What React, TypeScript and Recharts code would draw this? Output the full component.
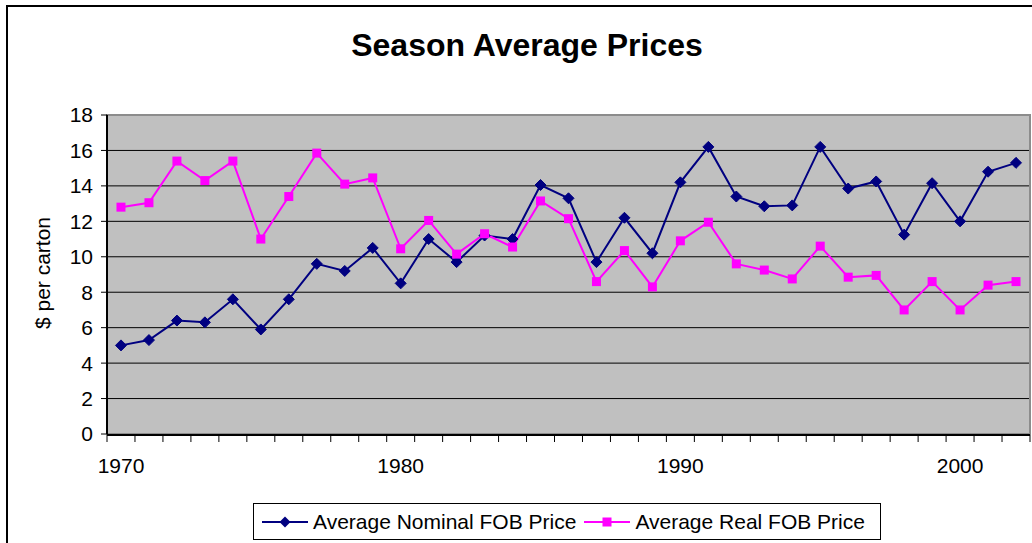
import {
  LineChart,
  Line,
  XAxis,
  YAxis,
  CartesianGrid,
  ReferenceArea,
} from 'recharts'

const years = [
  1970, 1971, 1972, 1973, 1974, 1975, 1976, 1977, 1978, 1979, 1980, 1981, 1982,
  1983, 1984, 1985, 1986, 1987, 1988, 1989, 1990, 1991, 1992, 1993, 1994, 1995,
  1996, 1997, 1998, 1999, 2000, 2001, 2002,
]

const nominal = [
  5.0, 5.3, 6.4, 6.3, 7.6, 5.9, 7.6, 9.6, 9.2, 10.5, 8.5, 11.0, 9.7, 11.2, 11.0,
  14.05, 13.3, 9.7, 12.2, 10.2, 14.2, 16.2, 13.4, 12.85, 12.9, 16.2, 13.85,
  14.25, 11.25, 14.15, 12.0, 14.8, 15.3,
]

const real = [
  12.8, 13.05, 15.4, 14.3, 15.4, 11.0, 13.4, 15.85, 14.1, 14.45, 10.45, 12.05,
  10.15, 11.3, 10.55, 13.15, 12.15, 8.6, 10.35, 8.3, 10.9, 11.95, 9.6, 9.25,
  8.75, 10.6, 8.85, 8.95, 7.0, 8.6, 7.0, 8.4, 8.6,
]

const yTicks = [0, 2, 4, 6, 8, 10, 12, 14, 16, 18]
const yearLabels = [1970, 1980, 1990, 2000]

const NAVY = '#000080'
const PINK = '#FF00FF'
const FONT = '"Liberation Sans", Arial, sans-serif'

const data = years.map((year, i) => ({
  year,
  nominal: nominal[i],
  real: real[i],
}))

// tick marks sit between the years, like the old spreadsheet chart
const boundaries = [...years.map((y) => y - 0.5), years[years.length - 1] + 0.5]
const xDomain = [boundaries[0], boundaries[boundaries.length - 1]]

const Diamond = (props: any) => {
  const { cx, cy, fill } = props
  if (cx == null || cy == null) return null
  const r = 5.5
  return (
    <polygon
      points={`${cx},${cy - r} ${cx + r},${cy} ${cx},${cy + r} ${cx - r},${cy}`}
      fill={fill}
      stroke={fill}
    />
  )
}

const Square = (props: any) => {
  const { cx, cy, fill } = props
  if (cx == null || cy == null) return null
  const s = 9
  return <rect x={cx - s / 2} y={cy - s / 2} width={s} height={s} fill={fill} />
}

const LegendBox = () => (
  <div
    style={{
      position: 'absolute',
      left: 253,
      top: 503,
      width: 628,
      height: 37,
      border: '1px solid #000',
      boxSizing: 'border-box',
      display: 'flex',
      alignItems: 'center',
      fontFamily: FONT,
      fontSize: 21,
      color: '#000',
      background: '#fff',
      whiteSpace: 'nowrap',
    }}
  >
    <svg width={46} height={14} style={{ marginLeft: 8 }}>
      <line x1={0} y1={7} x2={46} y2={7} stroke={NAVY} strokeWidth={2} />
      <polygon points="23,1.5 28.5,7 23,12.5 17.5,7" fill={NAVY} />
    </svg>
    <span style={{ marginLeft: 5 }}>Average Nominal FOB Price</span>
    <svg width={46} height={14} style={{ marginLeft: 8 }}>
      <line x1={0} y1={7} x2={46} y2={7} stroke={PINK} strokeWidth={2} />
      <rect x={18.5} y={2.5} width={9} height={9} fill={PINK} />
    </svg>
    <span style={{ marginLeft: 5 }}>Average Real FOB Price</span>
  </div>
)

export default function App() {
  return (
    <div
      style={{
        position: 'absolute',
        left: 0,
        top: 0,
        width: 1032,
        height: 543,
        overflow: 'hidden',
        background: '#fff',
        fontFamily: FONT,
      }}
    >
      <div
        style={{
          position: 'absolute',
          left: 0,
          top: 26,
          width: 1054,
          textAlign: 'center',
          fontSize: 32,
          lineHeight: '38px',
          fontWeight: 'bold',
          color: '#000',
        }}
      >
        Season Average Prices
      </div>
      <div
        style={{
          position: 'absolute',
          left: 43,
          top: 273,
          transform: 'translate(-50%, -50%) rotate(-90deg)',
          fontSize: 21,
          color: '#000',
          whiteSpace: 'nowrap',
        }}
      >
        $ per carton
      </div>
      <div style={{ position: 'absolute', left: 0, top: 0 }}>
        <LineChart
          width={1032}
          height={543}
          data={data}
          margin={{ top: 115, right: 2, bottom: 107, left: 0 }}
        >
          <CartesianGrid
            xAxisId="main"
            vertical={false}
            stroke="#000"
            fill="#C0C0C0"
            fillOpacity={1}
            horizontalValues={yTicks.slice(1, -1)}
          />
          <ReferenceArea
            xAxisId="main"
            x1={xDomain[0]}
            x2={xDomain[1]}
            y1={0}
            y2={18}
            fill="none"
            stroke="#8C8C8C"
            strokeWidth={2}
            ifOverflow="visible"
          />
          <XAxis
            xAxisId="marks"
            dataKey="year"
            type="number"
            domain={xDomain}
            ticks={boundaries}
            tickFormatter={() => ''}
            height={1}
            tickSize={7}
            stroke="#000"
            axisLine={{ stroke: '#000', strokeWidth: 2 }}
            allowDataOverflow
          />
          <XAxis
            xAxisId="main"
            dataKey="year"
            type="number"
            domain={xDomain}
            ticks={yearLabels}
            height={1}
            tickLine={false}
            axisLine={false}
            tickSize={0}
            tickMargin={24}
            tick={{ fill: '#000', fontSize: 21, fontFamily: FONT }}
            allowDataOverflow
          />
          <YAxis
            domain={[0, 18]}
            ticks={yTicks}
            width={107}
            tickSize={6}
            tickMargin={8}
            stroke="#000"
            axisLine={{ stroke: '#000', strokeWidth: 2 }}
            tick={{ fill: '#000', fontSize: 21, fontFamily: FONT }}
            interval={0}
          />
          <Line
            xAxisId="main"
            dataKey="nominal"
            name="Average Nominal FOB Price"
            stroke={NAVY}
            strokeWidth={2}
            fill={NAVY}
            dot={<Diamond />}
            activeDot={false}
            isAnimationActive={false}
          />
          <Line
            xAxisId="main"
            dataKey="real"
            name="Average Real FOB Price"
            stroke={PINK}
            strokeWidth={2}
            fill={PINK}
            dot={<Square />}
            activeDot={false}
            isAnimationActive={false}
          />
        </LineChart>
      </div>
      <LegendBox />
      <div
        style={{
          position: 'absolute',
          left: 6,
          top: 5,
          width: 1100,
          height: 600,
          borderLeft: '2px solid #000',
          borderTop: '2px solid #000',
          pointerEvents: 'none',
        }}
      />
    </div>
  )
}
